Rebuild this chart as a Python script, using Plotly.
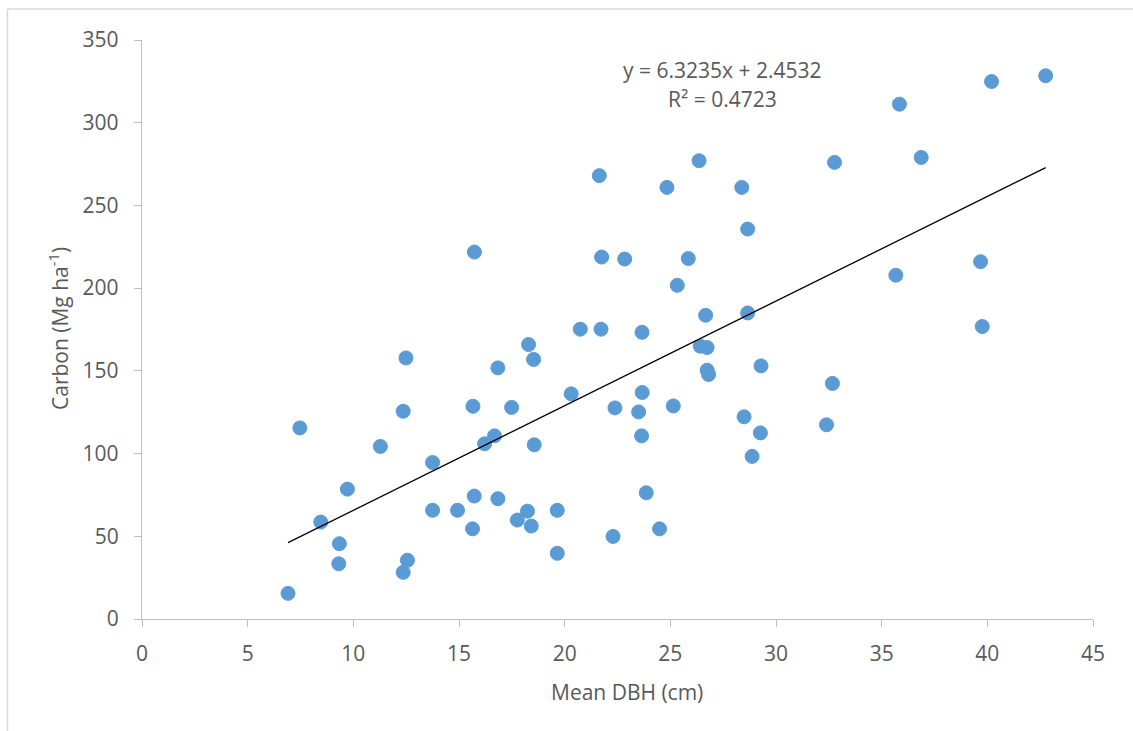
import plotly.graph_objects as go

# Data
mean_dbh = [
    6.91, 7.47, 8.46, 9.34, 9.31, 9.72, 11.28, 12.36, 12.56, 12.36,
    12.49, 13.75, 13.75, 14.93, 15.64, 15.72, 15.66, 15.73, 16.21, 16.68,
    16.84, 16.84, 17.49, 17.76, 18.24, 18.42, 18.29, 18.53, 18.56, 19.65,
    19.65, 20.31, 20.74, 21.64, 21.72, 21.75, 22.29, 22.38, 22.84, 23.50,
    23.64, 23.67, 23.66, 23.86, 24.49, 24.84, 25.14, 25.33, 25.85, 26.36,
    26.42, 26.74, 26.67, 26.74, 26.81, 28.38, 28.66, 28.49, 28.66, 28.87,
    29.26, 29.29, 32.39, 32.67, 32.77, 35.67, 35.84, 36.87, 39.68, 39.76,
    40.20, 42.76,
]
carbon = [
    15.5, 115.5, 58.6, 45.5, 33.4, 78.5, 104.3, 28.2, 35.5, 125.6,
    157.8, 94.6, 65.7, 65.7, 54.5, 74.3, 128.6, 221.8, 105.9, 110.7,
    72.7, 151.8, 127.9, 59.8, 65.2, 56.2, 165.9, 156.9, 105.3, 39.7,
    65.7, 136.1, 175.2, 268.0, 175.2, 218.8, 49.9, 127.6, 217.6, 125.2,
    110.7, 136.9, 173.3, 76.3, 54.5, 260.9, 128.8, 201.7, 217.9, 277.0,
    164.9, 164.1, 183.6, 150.4, 147.8, 260.9, 235.7, 122.2, 185.0, 98.3,
    112.5, 153.0, 117.4, 142.4, 276.0, 207.8, 311.2, 279.0, 216.0, 176.8,
    324.9, 328.4,
]
slope = 6.3235
intercept = 2.4532
r_squared = 0.4723
x_ticks = [0, 5, 10, 15, 20, 25, 30, 35, 40, 45]
y_ticks = [0, 50, 100, 150, 200, 250, 300, 350]
x_title = "Mean DBH (cm)"
y_title = "Carbon (Mg ha<sup>-1</sup>)"

trend_x = [min(mean_dbh), max(mean_dbh)]
trend_y = [slope * v + intercept for v in trend_x]

FONT = "Open Sans"
TXT = "#595959"
AX = "#BFBFBF"

# plot-area geometry in pixels
L, R, T, B = 142, 40, 40, 112
W, H = 1133, 731
PW, PH = W - L - R, H - T - B


def px(xp):
    return (xp - L) / PW


def py(yp):
    return (H - B - yp) / PH


fig = go.Figure()
fig.add_trace(go.Scatter(
    x=mean_dbh, y=carbon, mode="markers",
    marker=dict(size=14, color="#5B9BD5", line=dict(width=1, color="#5B9BD5")),
    showlegend=False, hoverinfo="skip",
))
fig.add_trace(go.Scatter(
    x=trend_x, y=trend_y, mode="lines",
    line=dict(color="black", width=1.3),
    showlegend=False, hoverinfo="skip",
))

fig.add_annotation(
    x=px(722), y=py(70), xref="paper", yref="paper",
    text=f"y = {slope}x + {intercept}", showarrow=False,
    font=dict(family=FONT, size=21, color=TXT), xanchor="center", yanchor="middle",
)
fig.add_annotation(
    x=px(722), y=py(99), xref="paper", yref="paper",
    text=f"R² = {r_squared}", showarrow=False,
    font=dict(family=FONT, size=21, color=TXT), xanchor="center", yanchor="middle",
)
fig.add_annotation(
    x=px(627), y=py(692), xref="paper", yref="paper",
    text=x_title, showarrow=False,
    font=dict(family=FONT, size=21, color=TXT), xanchor="center", yanchor="middle",
)
fig.add_annotation(
    x=px(58), y=py(329), xref="paper", yref="paper",
    text=y_title, showarrow=False, textangle=-90,
    font=dict(family=FONT, size=21, color=TXT), xanchor="center", yanchor="middle",
)

# chart frame (top and left edges visible)
fx = px(7.5)
fy = py(9)
fig.add_shape(type="line", xref="paper", yref="paper", x0=fx, x1=1.2, y0=fy, y1=fy,
              line=dict(color="#D9D9D9", width=1.5))
fig.add_shape(type="line", xref="paper", yref="paper", x0=fx, x1=fx, y0=fy, y1=-0.3,
              line=dict(color="#D9D9D9", width=1.5))

fig.update_layout(
    width=W, height=H,
    margin=dict(l=L, r=R, t=T, b=B),
    paper_bgcolor="white", plot_bgcolor="white",
    font=dict(family=FONT, color=TXT),
    xaxis=dict(
        range=[0, 45], tickvals=x_ticks, ticktext=[str(v) for v in x_ticks],
        showgrid=False, zeroline=False, showline=True, linecolor=AX, linewidth=1.3,
        ticks="outside", ticklen=7, tickcolor=AX, tickwidth=1.3,
        ticklabelstandoff=9,
        tickfont=dict(family=FONT, size=21, color=TXT),
    ),
    yaxis=dict(
        range=[0, 350], tickvals=y_ticks, ticktext=[str(v) for v in y_ticks],
        showgrid=False, zeroline=False, showline=True, linecolor=AX, linewidth=1.3,
        ticks="outside", ticklen=7, tickcolor=AX, tickwidth=1.3,
        ticklabelstandoff=11,
        tickfont=dict(family=FONT, size=21, color=TXT),
    ),
)

fig.write_html("out.html", config=dict(displayModeBar=False))
